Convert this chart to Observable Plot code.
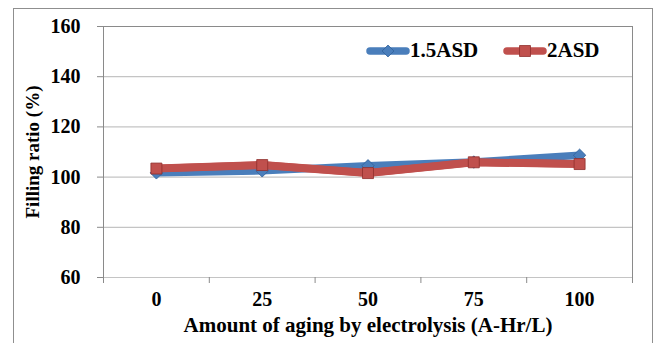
<!DOCTYPE html>
<html>
<head>
<meta charset="utf-8">
<script src="https://cdn.jsdelivr.net/npm/d3@7"></script>
<script src="https://cdn.jsdelivr.net/npm/@observablehq/plot@0.6"></script>
<style>
  html, body { margin: 0; padding: 0; background: #fff; overflow: hidden; }
  #wrap { position: relative; width: 655px; height: 343px; }
  #border { position: absolute; left: 13px; top: 8px; width: 638px; height: 400px; border: 1px solid #8f8f8f; pointer-events: none; }
  .lg { position: absolute; top: 38px; font-family: "Liberation Serif", "Times New Roman", Tinos, "DejaVu Serif", serif; font-weight: bold; font-size: 21px; color: #000; display: flex; align-items: center; white-space: nowrap; }
  .lg svg { display: block; }
</style>
</head>
<body>
<div id="wrap">
  <div id="chart"></div>
  <div id="border"></div>
  <div class="lg" style="left:366px"><svg width="44" height="22" id="sw1"></svg><span>1.5ASD</span></div>
  <div class="lg" style="left:503px"><svg width="44" height="22" id="sw2"></svg><span>2ASD</span></div>
</div>
<script>
// Data
const categories = [0, 25, 50, 75, 100];
const seriesNames = ["1.5ASD", "2ASD"];
const values15 = [101.7, 102.5, 104.5, 106.0, 108.7];
const values2 = [103.4, 104.8, 101.6, 105.9, 105.2];
const yTicks = [60, 80, 100, 120, 140, 160];
const xTickLabels = ["0", "25", "50", "75", "100"];
const colors = ["#4a7ebb", "#c0504d"];
const markerStroke = ["#2f5f99", "#8f2f2c"];

const rows = [];
categories.forEach((c, i) => {
  rows.push({x: c, y: values15[i], s: seriesNames[0]});
});
categories.forEach((c, i) => {
  rows.push({x: c, y: values2[i], s: seriesNames[1]});
});
const step = categories[1] - categories[0];
const boundaries = [categories[0] - step / 2, ...categories.map(c => c + step / 2)];

const font = '"Liberation Serif", "Times New Roman", Tinos, "DejaVu Serif", serif';

const chart = Plot.plot({
  width: 655,
  height: 343,
  marginLeft: 103,
  marginRight: 23,
  marginTop: 26,
  marginBottom: 66,
  style: { fontFamily: font, fontWeight: "bold", fontSize: "18px", color: "#000", background: "transparent" },
  x: { domain: [boundaries[0], boundaries[boundaries.length - 1]] },
  y: { domain: [yTicks[0], yTicks[yTicks.length - 1]] },
  marks: [
    Plot.ruleY(yTicks, { stroke: "#c4c4c4", strokeWidth: 1.2 }),
    Plot.frame({ stroke: "#8a8a8a", anchor: "top" }),
    Plot.frame({ stroke: "#8a8a8a", anchor: "left" }),
    Plot.frame({ stroke: "#8a8a8a", anchor: "right" }),
    Plot.axisY({ ticks: yTicks, tickSize: 6, tickPadding: 17, stroke: "#8a8a8a", fontSize: 20, fontFamily: font, label: null, tickFormat: d => String(d) }),
    Plot.axisX({ ticks: boundaries, tickSize: 6, stroke: "#8a8a8a", tickFormat: () => "", label: null }),
    Plot.axisX({ ticks: categories, tickSize: 0, tickPadding: 14, fontSize: 20, fontFamily: font, label: null, tickFormat: (d, i) => xTickLabels[i] }),
    Plot.line(rows, { x: "x", y: "y", z: "s", stroke: "s", strokeWidth: 7.5, strokeLinejoin: "round", strokeLinecap: "round" }),
    Plot.dot(rows.filter(r => r.s === seriesNames[0]), { x: "x", y: "y", symbol: "diamond2", r: 5.6, fill: colors[0], stroke: markerStroke[0], strokeWidth: 0.8 }),
    Plot.line(rows.filter(r => r.s === seriesNames[1]), { x: "x", y: "y", stroke: colors[1], strokeWidth: 8, strokeLinejoin: "round", strokeLinecap: "round" }),
    Plot.dot(rows.filter(r => r.s === seriesNames[1]), { x: "x", y: "y", symbol: "square", r: 6.2, fill: colors[1], stroke: markerStroke[1], strokeWidth: 0.8 }),
    Plot.text(["Filling ratio (%)"], { frameAnchor: "left", dx: -71, rotate: -90, textAnchor: "middle", text: d => d, fontSize: 19, fontWeight: "bold", fontFamily: font, lineAnchor: "middle" }),
    Plot.text(["Amount of aging by electrolysis (A-Hr/L)"], { frameAnchor: "bottom", dy: 48, text: d => d, fontSize: 21, fontWeight: "bold", fontFamily: font, lineAnchor: "middle" })
  ],
  color: { domain: seriesNames, range: colors }
});
document.getElementById("chart").appendChild(chart);

function swatch(id, color, stroke, kind) {
  const svg = d3.select("#" + id);
  svg.append("line").attr("x1", 4).attr("x2", 40).attr("y1", 11).attr("y2", 11)
    .attr("stroke", color).attr("stroke-width", 7.5).attr("stroke-linecap", "round");
  const sym = kind === "diamond" ? d3.symbolDiamond2 : d3.symbolSquare;
  const size = kind === "diamond" ? 90 : 120;
  svg.append("path").attr("d", d3.symbol(sym, size)()).attr("transform", "translate(22,11)")
    .attr("fill", color).attr("stroke", stroke).attr("stroke-width", 0.8);
}
swatch("sw1", colors[0], markerStroke[0], "diamond");
swatch("sw2", colors[1], markerStroke[1], "square");
</script>
</body>
</html>
